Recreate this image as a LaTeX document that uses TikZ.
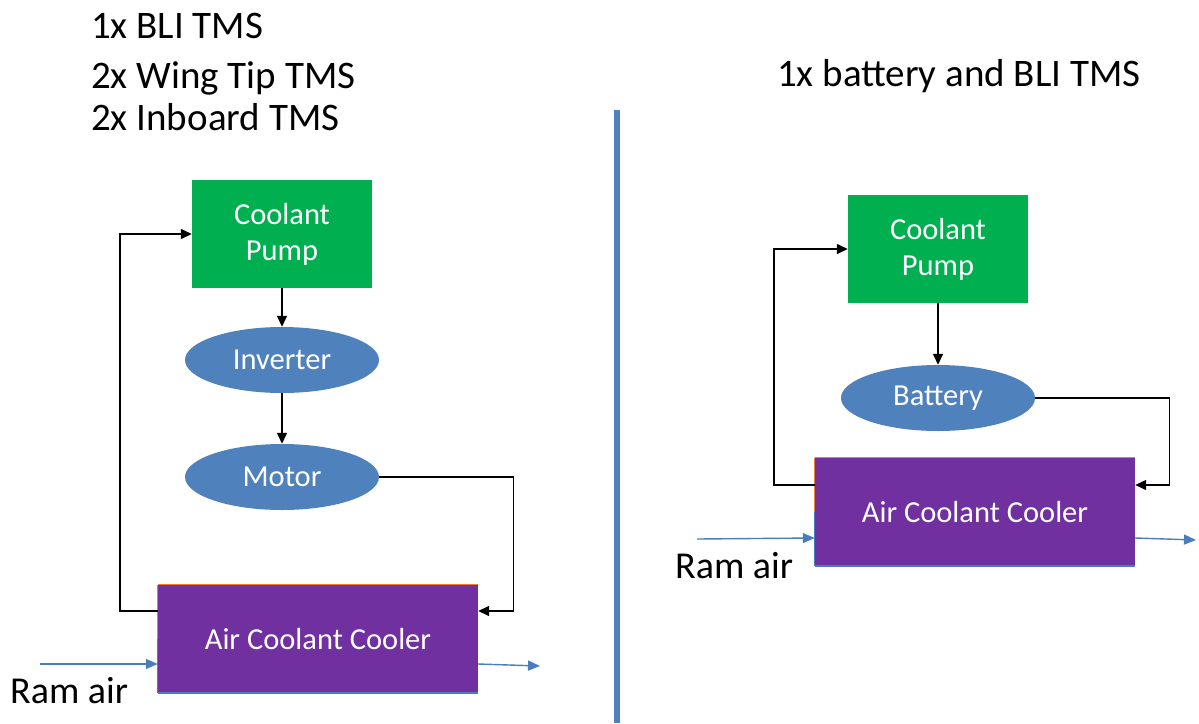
\documentclass[tikz,border=0pt]{standalone}
\usepackage{fontspec}
\setmainfont{Carlito}
\usetikzlibrary{arrows.meta,shapes.geometric}
\definecolor{pumpgreen}{HTML}{00B050}
\definecolor{ellblue}{HTML}{4F81BD}
\definecolor{coolpurple}{HTML}{7030A0}
\definecolor{airblue}{HTML}{4A7EBB}
\definecolor{edgeorange}{HTML}{ED7D31}
\definecolor{divblue}{HTML}{4F81BD}
\begin{document}
\begin{tikzpicture}[x=1pt,y=-1pt,
  pumpbox/.style={fill=pumpgreen, minimum width=180pt, minimum height=108pt, text=white,
    font=\fontsize{30.5}{36}\selectfont, align=center, inner sep=0pt},
  ellnode/.style={ellipse, fill=ellblue, minimum width=194pt, minimum height=66pt, text=white,
    font=\fontsize{30.5}{36}\selectfont, inner sep=0pt},
  coolerbox/.style={fill=coolpurple, minimum width=320pt, minimum height=108pt, text=white,
    font=\fontsize{30.5}{36}\selectfont, inner sep=0pt},
  flow/.style={draw=black, line width=1.4pt, -{Triangle[length=11pt,width=10pt]}},
  air/.style={draw=airblue, line width=1.4pt, -{Triangle[length=12pt,width=10pt]}},
  title/.style={font=\fontsize{39}{46}\selectfont, anchor=base west, inner sep=0pt},
  ramlabel/.style={font=\fontsize{38}{44}\selectfont, anchor=base west, inner sep=0pt}
]
\useasboundingbox (0,0) rectangle (1199,723);

% titles
\node[title] (t1) at (91,38) {1x BLI TMS};
\node[title] (t2) at (91,88) {2x Wing Tip TMS};
\node[title] (t3) at (91,130) {2x Inboard TMS};
\node[title] (t4) at (777,86) {1x battery and BLI TMS};

% divider
\coordinate (divtop) at (617,110);
\coordinate (divbot) at (617,723);
\draw[divblue, line width=6pt] (divtop) -- (divbot);

% ---------- left system ----------
\node[pumpbox] (pumpL) at (282,234) {Coolant\\Pump};
\node[ellnode] (invL) at (282,360) {Inverter};
\node[ellnode] (motL) at (282,477) {Motor};
\node[coolerbox] (coolL) at (318,639) {Air Coolant Cooler};
\draw[edgeorange, line width=1.2pt] (coolL.north west) -- (coolL.north east);
\draw[edgeorange, line width=1.2pt] (coolL.north west) -- (coolL.west);
\draw[airblue, line width=1.6pt] (coolL.south west) -- (coolL.south east);
\draw[airblue, line width=1.2pt] (coolL.west) -- (coolL.south west);

\coordinate (cLin) at ([yshift=28pt]coolL.east);
\coordinate (cLout) at ([yshift=28pt]coolL.west);
\coordinate (airLin) at ([yshift=-25pt]coolL.west);
\coordinate (airLout) at ([yshift=-25pt]coolL.east);
\coordinate (ramL) at (40,664);
\coordinate (exL) at (540,666);

\draw[flow] (pumpL.south) -- (invL.north);
\draw[flow] (invL.south) -- (motL.north);
\draw[flow] (motL.east) -- ++(134,0) |- (cLin);
\draw[flow] (cLout) -- ++(-38,0) |- (pumpL.west);
\draw[air] (ramL) -- (airLin);
\draw[air] (airLout) -- (exL);
\node[ramlabel] (ramtxtL) at (10,703) {Ram air};

% ---------- right system ----------
\node[pumpbox] (pumpR) at (938,249) {Coolant\\Pump};
\node[ellnode] (batR) at (938,398) {Battery};
\node[coolerbox] (coolR) at (975,512) {Air Coolant Cooler};
\draw[edgeorange, line width=1.2pt] (coolR.north west) -- (coolR.north east);
\draw[edgeorange, line width=1.2pt] (coolR.north west) -- (coolR.west);
\draw[airblue, line width=1.6pt] (coolR.south west) -- (coolR.south east);
\draw[airblue, line width=1.2pt] (coolR.west) -- (coolR.south west);

\coordinate (cRin) at ([yshift=27pt]coolR.east);
\coordinate (cRout) at ([yshift=27pt]coolR.west);
\coordinate (airRin) at ([yshift=-26pt]coolR.west);
\coordinate (airRout) at ([yshift=-26pt]coolR.east);
\coordinate (ramR) at (697,539);
\coordinate (exR) at (1196,540);

\draw[flow] (pumpR.south) -- (batR.north);
\draw[flow] (batR.east) -- ++(134,0) |- (cRin);
\draw[flow] (cRout) -- ++(-41,0) |- (pumpR.west);
\draw[air] (ramR) -- (airRin);
\draw[air] (airRout) -- (exR);
\node[ramlabel] (ramtxtR) at (675,578) {Ram air};
\end{tikzpicture}
\end{document}
